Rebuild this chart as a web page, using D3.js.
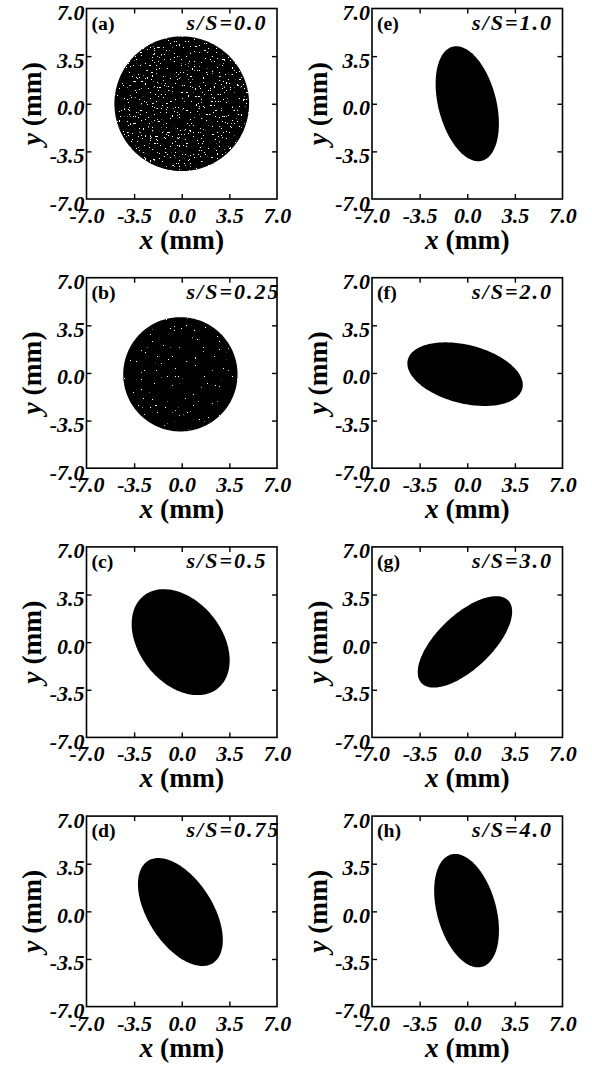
<!DOCTYPE html>
<html>
<head>
<meta charset="utf-8">
<script src="https://cdn.jsdelivr.net/npm/d3@7"></script>
<style>
  html, body { margin: 0; padding: 0; background: #fff; }
  svg { display: block; }
</style>
</head>
<body>
<script>
// ---- data ----
const panelLabels = ["(a)", "(b)", "(c)", "(d)", "(e)", "(f)", "(g)", "(h)"];
const sOverS      = ["0.0", "0.25", "0.5", "0.75", "1.0", "2.0", "3.0", "4.0"];
// beam cross-section fitted as ellipse (mm, degrees)
const centerX   = [0.0, -0.10, -0.08, -0.10, 0.00, -0.16, -0.17, -0.05];
const centerY   = [0.0, -0.10,  0.00, -0.05, 0.00, -0.09,  0.02,  0.05];
const semiMajor = [4.95, 4.20, 4.36, 4.45, 4.33, 4.34, 4.40, 4.28];
const semiMinor = [4.95, 4.20, 3.02, 2.38, 2.13, 2.15, 1.99, 2.17];
const tiltDeg   = [0, 0, -51.4, -57.6, -75.7, -14.1, 43.6, -74.6];
const speckle   = ["heavy", "light", "none", "none", "none", "none", "none", "none"];
const axisTicks = [-7.0, -3.5, 0.0, 3.5, 7.0];
const xTitle = ["x", " (mm)"];
const yTitle = ["y", " (mm)"];

// ---- layout ----
const W = 592, H = 1067;
const colLeft = [86.5, 372];
const rowTop0 = 8.5, rowStep = 269.2;
const boxW = 190.5, boxH = 190.5;

// pick an installed Times-like serif
const canvas = document.createElement("canvas");
const ctx = canvas.getContext("2d");
function widthOf(txt, fam, style) {
  ctx.font = `${style || ""} 100px ${fam}`;
  return ctx.measureText(txt).width;
}
const candidates = ["Liberation Serif", "Times New Roman", "Tinos", "Nimbus Roman",
  "Nimbus Roman No9 L", "FreeSerif", "Noto Serif", "DejaVu Serif"];
let family = "serif";
for (const c of candidates) {
  const probe = "mmmmwwwlli0123";
  if (widthOf(probe, `'${c}', monospace`) !== widthOf(probe, "monospace")) { family = `'${c}'`; break; }
}
const font = `${family}, serif`;
// size a text style so a reference string reaches the width seen in the reference
function fitSize(sample, targetW, style) {
  return targetW / widthOf(sample, font, style) * 100;
}
const tickSize  = Math.min(22, fitSize("-3.5", 35, "italic bold"));
const annoSize  = Math.min(22, fitSize("s/S=0.0", 72, "italic bold"));
const annoSpace = Math.max(0, (81 - widthOf("s/S=0.0", font, "italic bold") * annoSize / 100) / 7);
const labSize   = Math.min(21, fitSize("(a)", 23, "bold"));
const titleSize = Math.min(29, fitSize("(mm)", 64, "bold"));

const svg = d3.select("body").append("svg").attr("width", W).attr("height", H);
const defs = svg.append("defs");

function speckFilter(id, thr) {
  const f = defs.append("filter").attr("id", id)
    .attr("x", "-5%").attr("y", "-5%").attr("width", "110%").attr("height", "110%");
  f.append("feTurbulence").attr("type", "fractalNoise").attr("baseFrequency", 0.55)
    .attr("numOctaves", 2).attr("seed", 11).attr("result", "noise");
  const k = 40;
  f.append("feColorMatrix").attr("in", "noise").attr("type", "matrix")
    .attr("values", `0 0 0 0 0  0 0 0 0 0  0 0 0 0 0  ${k} 0 0 0 ${-k * thr}`)
    .attr("result", "holes");
  f.append("feComposite").attr("in", "SourceGraphic").attr("in2", "holes").attr("operator", "out");
}
speckFilter("speck-heavy", 0.70);
speckFilter("speck-light", 0.77);

const x = d3.scaleLinear().domain([-7, 7]).range([0, boxW]);
const y = d3.scaleLinear().domain([-7, 7]).range([boxH, 0]);
const fmt = v => d3.format(".1f")(v).replace("\u2212", "-");
const innerTicks = axisTicks.filter(t => Math.abs(t) < 7);

const line = d3.line().x(d => x(d[0])).y(d => y(d[1])).curve(d3.curveLinearClosed);

panelLabels.forEach((lab, i) => {
  const col = Math.floor(i / 4), row = i % 4;
  const g = svg.append("g")
    .attr("transform", `translate(${colLeft[col]},${rowTop0 + row * rowStep})`);

  // ellipse outline in data space
  const th = tiltDeg[i] * Math.PI / 180;
  const pts = d3.range(0, 360, 2).map(deg => {
    const t = deg * Math.PI / 180;
    const u = semiMajor[i] * Math.cos(t), v = semiMinor[i] * Math.sin(t);
    return [centerX[i] + u * Math.cos(th) - v * Math.sin(th),
            centerY[i] + u * Math.sin(th) + v * Math.cos(th)];
  });
  const shape = g.append("path").attr("d", line(pts)).attr("fill", "#000");
  if (speckle[i] !== "none") shape.attr("filter", `url(#speck-${speckle[i]})`);

  // frame
  g.append("rect").attr("x", 0).attr("y", 0).attr("width", boxW).attr("height", boxH)
    .attr("fill", "none").attr("stroke", "#000").attr("stroke-width", 1.6);

  // inward ticks on all sides
  const tickStyle = sel => {
    sel.select(".domain").remove();
    sel.selectAll(".tick line").attr("stroke", "#000").attr("stroke-width", 1.4);
  };
  g.append("g").attr("transform", `translate(0,${boxH})`)
    .call(d3.axisBottom(x).tickValues(innerTicks).tickSizeInner(-5).tickSizeOuter(0).tickFormat(""))
    .call(tickStyle);
  g.append("g")
    .call(d3.axisTop(x).tickValues(innerTicks).tickSizeInner(-5).tickSizeOuter(0).tickFormat(""))
    .call(tickStyle);
  g.append("g")
    .call(d3.axisLeft(y).tickValues(innerTicks).tickSizeInner(-5).tickSizeOuter(0).tickFormat(""))
    .call(tickStyle);
  g.append("g").attr("transform", `translate(${boxW},0)`)
    .call(d3.axisRight(y).tickValues(innerTicks).tickSizeInner(-5).tickSizeOuter(0).tickFormat(""))
    .call(tickStyle);

  // tick labels
  const labelStyle = sel => {
    sel.select(".domain").remove();
    sel.selectAll(".tick line").remove();
    sel.selectAll("text").attr("font-family", font).attr("font-size", tickSize)
      .attr("font-weight", "bold").attr("font-style", "italic").attr("fill", "#000");
  };
  g.append("g").attr("transform", `translate(0,${boxH})`)
    .call(d3.axisBottom(x).tickValues(axisTicks).tickSize(0).tickPadding(0).tickFormat(fmt))
    .call(labelStyle)
    .call(s => s.selectAll("text").attr("y", 24).attr("dy", null));
  g.append("g")
    .call(d3.axisLeft(y).tickValues(axisTicks).tickSize(0).tickPadding(2).tickFormat(fmt))
    .call(labelStyle)
    .call(s => s.selectAll("text").attr("dy", "0.5em"));

  // axis titles
  const xt = g.append("text").attr("x", boxW / 2).attr("y", boxH + 50)
    .attr("text-anchor", "middle").attr("font-family", font).attr("font-size", titleSize)
    .attr("font-weight", "bold").attr("fill", "#000");
  xt.append("tspan").attr("font-style", "italic").text(xTitle[0]);
  xt.append("tspan").text(xTitle[1]);

  const yt = g.append("text")
    .attr("transform", `translate(${-55},${boxH / 2}) rotate(-90)`)
    .attr("text-anchor", "middle").attr("dy", "0.35em")
    .attr("font-family", font).attr("font-size", titleSize)
    .attr("font-weight", "bold").attr("fill", "#000");
  yt.append("tspan").attr("font-style", "italic").text(yTitle[0]);
  yt.append("tspan").text(yTitle[1]);

  // panel label and s/S annotation
  g.append("text").attr("x", 5).attr("y", 21)
    .attr("font-family", font).attr("font-size", labSize).attr("font-weight", "bold")
    .attr("fill", "#000").text(lab);
  g.append("text").attr("x", 100).attr("y", 21)
    .attr("font-family", font).attr("font-size", annoSize).attr("font-weight", "bold")
    .attr("font-style", "italic").attr("letter-spacing", annoSpace)
    .attr("fill", "#000").text("s/S=" + sOverS[i]);
});
</script>
</body>
</html>
